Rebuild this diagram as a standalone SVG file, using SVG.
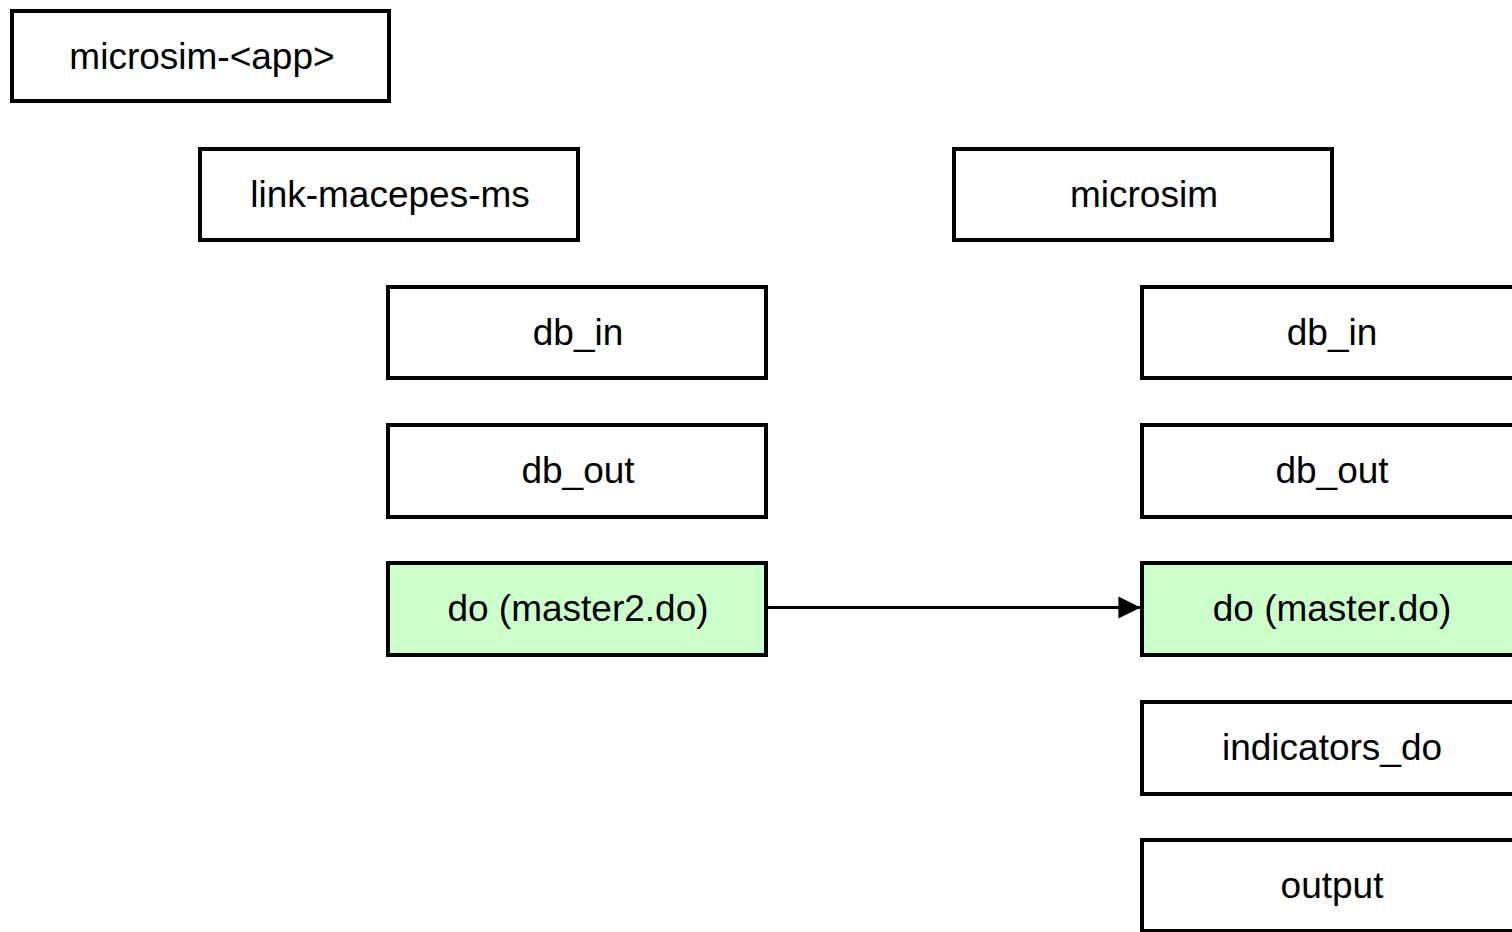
<svg xmlns="http://www.w3.org/2000/svg" width="1512" height="932" viewBox="0 0 1512 932">
<style>
.box{fill:#ffffff;stroke:#000;stroke-width:4}
.g{fill:#ccffcc}
.t{font-family:"Liberation Sans",Arial,sans-serif;font-size:37px;fill:#000;text-anchor:middle}
.c{stroke:#000;stroke-width:3;fill:none}
</style>
<defs>
<marker id="ah" markerWidth="7.4" markerHeight="7.4" refX="7.2" refY="3.7" orient="auto" markerUnits="strokeWidth"><path d="M0,0 L7.4,3.7 L0,7.4 z" fill="#000"/></marker>
</defs>
<rect width="1512" height="932" fill="#fff"/>
<g id="n-app"><rect class="box" x="12" y="11" width="377" height="90"/><text class="t" x="202" y="69">microsim-&lt;app&gt;</text></g>
<g id="n-link"><rect class="box" x="200" y="149" width="378" height="91"/><text class="t" x="390" y="207">link-macepes-ms</text></g>
<g id="n-microsim"><rect class="box" x="954" y="149" width="378" height="91"/><text class="t" x="1144" y="207">microsim</text></g>
<g id="n-l-dbin"><rect class="box" x="388" y="287" width="378" height="91"/><text class="t" x="578" y="345">db_in</text></g>
<g id="n-l-dbout"><rect class="box" x="388" y="425" width="378" height="92"/><text class="t" x="578" y="483">db_out</text></g>
<g id="n-l-do"><rect class="box g" x="388" y="563" width="378" height="92"/><text class="t" x="578" y="621">do (master2.do)</text></g>
<g id="n-r-dbin"><rect class="box" x="1142" y="287" width="378" height="91"/><text class="t" x="1332" y="345">db_in</text></g>
<g id="n-r-dbout"><rect class="box" x="1142" y="425" width="378" height="92"/><text class="t" x="1332" y="483">db_out</text></g>
<g id="n-r-do"><rect class="box g" x="1142" y="563" width="378" height="92"/><text class="t" x="1332" y="621">do (master.do)</text></g>
<g id="n-r-ind"><rect class="box" x="1142" y="702" width="378" height="92"/><text class="t" x="1332" y="760">indicators_do</text></g>
<g id="n-r-out"><rect class="box" x="1142" y="840" width="378" height="91"/><text class="t" x="1332" y="898">output</text></g>
<g id="connectors"><line class="c" x1="764" y1="607.5" x2="1140" y2="607.5" marker-end="url(#ah)"/></g>
</svg>
